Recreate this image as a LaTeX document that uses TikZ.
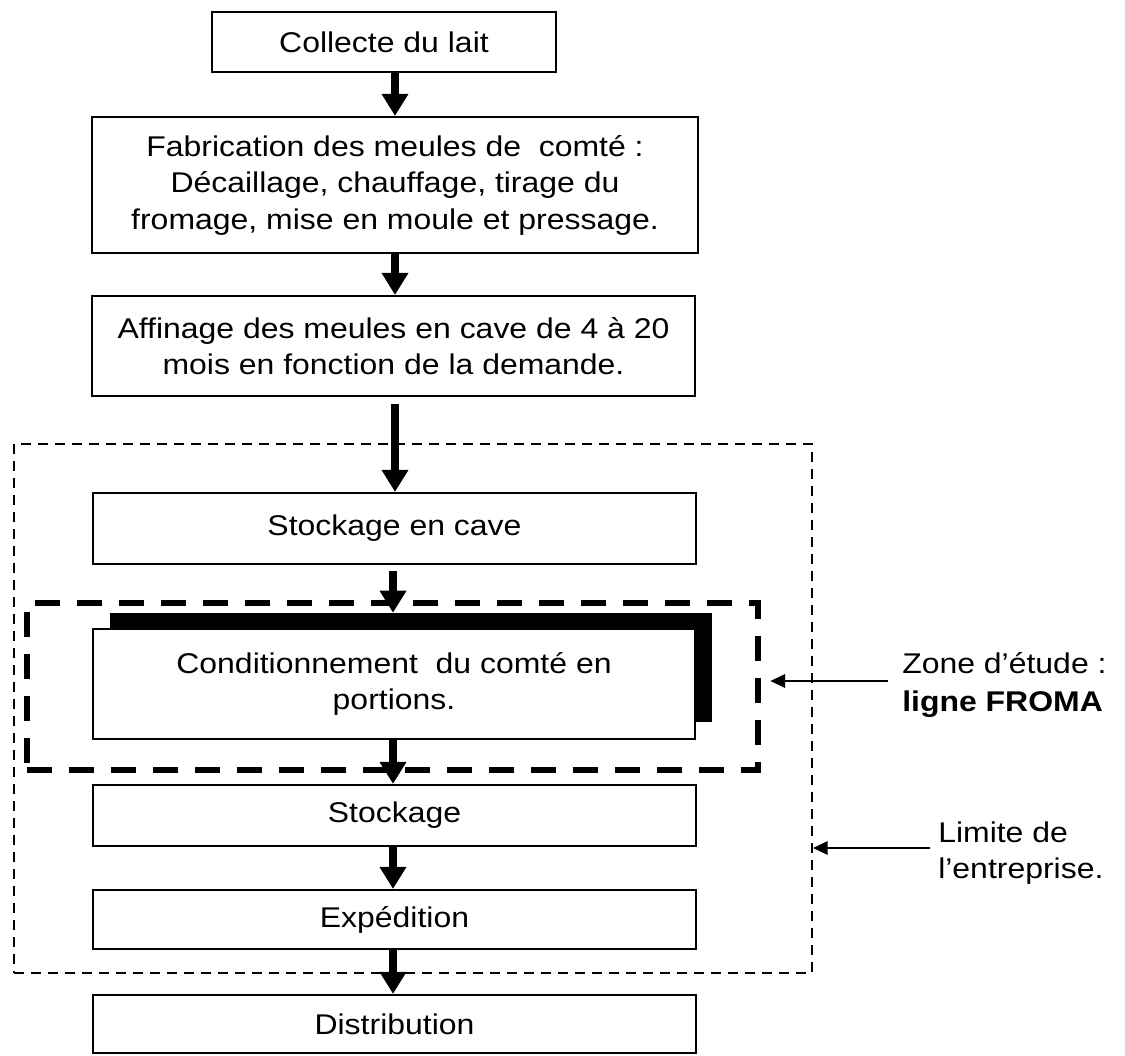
\documentclass[tikz,border=0pt]{standalone}
\usepackage{fontspec}
\setmainfont{Liberation Sans}[FakeStretch=1.12]
\usetikzlibrary{arrows.meta}
\begin{document}
\begin{tikzpicture}[x=0.75pt,y=-0.75pt,
  txt/.style={font=\fontsize{21.4pt}{27.4pt}\selectfont},
  box/.style={txt, draw, line width=1.6pt, fill=white, align=center, inner sep=0pt, minimum width=452.25pt},
  flow/.style={line width=6.5pt, -{Triangle[width=19pt,length=16.5pt]}},
  note/.style={line width=1.5pt, -{Triangle[width=10pt,length=11pt]}},
  lbl/.style={txt, anchor=base west, inner sep=0pt},
  limitbox/.style={draw, line width=1.5pt, dash pattern=on 7.5pt off 5.25pt, minimum width=598.5pt, minimum height=396.75pt, inner sep=0pt},
  zonebox/.style={draw, line width=5pt, dash pattern=on 18.75pt off 12.75pt, minimum width=548.25pt, minimum height=125.25pt, inner sep=0pt}
]
\useasboundingbox (0,0) rectangle (1125,1056);

% dashed boundaries
\node[limitbox] (entreprise) at (413,708.5) {};
\node[zonebox] (etude) at (392.5,686.5) {};

% boxes
\node[box, minimum width=258pt, minimum height=45pt] (collecte) at (384,42) {Collecte du lait};
\node[box, minimum width=454.5pt, minimum height=102pt] (fab) at (395,185)
  {Fabrication des meules de\ \ comté :\\ Décaillage, chauffage, tirage du\\ fromage, mise en moule et pressage.};
\node[box, minimum height=75pt] (aff) at (393.5,346)
  {Affinage des meules en cave de 4 à 20\\ mois en fonction de la demande.};
\node[box, minimum height=53.25pt] (stockcave) at (394.5,528.5) {Stockage en cave};
\node[fill=black, inner sep=0pt, minimum width=451.5pt, minimum height=81.75pt] (shadow) at (411,667.5) {};
\node[box, minimum width=451.5pt, minimum height=82.5pt] (cond) at (394,684)
  {Conditionnement\ \ du comté en\\ portions.};
\node[box, minimum height=45.75pt] (stock) at (394.5,815.5) {Stockage};
\node[box, minimum height=44.25pt] (exped) at (394.5,919.5) {Expédition};
\node[box, minimum height=43.5pt] (distrib) at (394.5,1024) {Distribution};

% labels
\node[lbl] (zoneA) at (902,673) {Zone d’étude :};
\node[lbl] (zoneB) at (902,711) {\bfseries ligne FROMA};
\node[lbl] (limA) at (938,842) {Limite de};
\node[lbl] (limB) at (938,878) {l’entreprise.};

% flow arrows
\coordinate (ax) at (395,0);
\coordinate (bx) at (393,0);
\draw[flow] (collecte.south -| ax) -- (fab.north -| ax);
\draw[flow] (fab.south -| ax) -- (aff.north -| ax);
\draw[flow] ([yshift=-5.25pt]aff.south -| ax) -- (stockcave.north -| ax);
\draw[flow] ([yshift=-4.5pt]stockcave.south -| bx) -- (shadow.north -| bx);
\draw[flow] (cond.south -| bx) -- (stock.north -| bx);
\draw[flow] (stock.south -| bx) -- (exped.north -| bx);
\draw[flow] (exped.south -| bx) -- (distrib.north -| bx);

% annotation arrows
\coordinate (zt) at (888,681);
\coordinate (lt) at (930,848);
\draw[note] (zt) -- ([xshift=6.75pt]etude.east |- zt);
\draw[note] (lt) -- (entreprise.east |- lt);
\end{tikzpicture}
\end{document}
